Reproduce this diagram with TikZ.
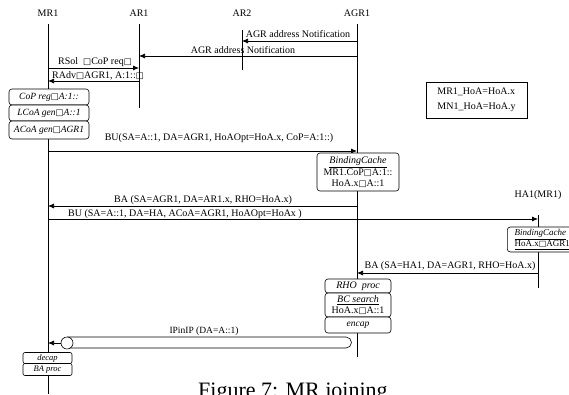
\documentclass[tikz,border=0pt]{standalone}
\usepackage{fontspec}
\setmainfont{Liberation Serif}
\newfontfamily\djvfont{DejaVu Sans}
\newcommand\sqg{{\djvfont\fontsize{8.5}{8.5}\selectfont □}}
\usetikzlibrary{arrows.meta}
\begin{document}
\begin{tikzpicture}[x=1pt,y=-1pt,
  font=\fontsize{10}{11}\selectfont,
  life/.style={line width=0.75pt},
  msg/.style={line width=0.75pt,-{Latex[length=6pt,width=5pt]}},
  lbl/.style={inner sep=0pt,anchor=base},
  head/.style={inner sep=0pt,anchor=base,font=\fontsize{10}{11}\selectfont},
  proc/.style={draw,fill=white,rounded corners=3pt,line width=0.6pt,inner sep=0pt,align=center},
  memo/.style={draw,fill=white,line width=0.6pt,inner sep=0pt,align=left}
]
\clip (0,0) rectangle (569,394);
\useasboundingbox (0,0) rectangle (569,394);

% headers
\node[head] (MR1) at (48,16) {MR1};
\node[head] (AR1) at (139,16) {AR1};
\node[head] (AR2) at (242,16) {AR2};
\node[head] (AGR1) at (357,16) {AGR1};
\node[head] (HA1) at (538,197) {HA1(MR1)};

% lifeline ends
\coordinate (mrT) at (48,24);  \coordinate (mrB) at (48,394);
\coordinate (arT) at (139,24); \coordinate (arB) at (139,108);
\coordinate (ar2T) at (242,30); \coordinate (ar2B) at (242,70);
\coordinate (agT) at (357,24); \coordinate (agB) at (357,357);
\coordinate (haT) at (538,215); \coordinate (haB) at (538,288);
\draw[life] (mrT) -- (mrB);
\draw[life] (arT) -- (arB);
\draw[life] (ar2T) -- (ar2B);
\draw[life] (agT) -- (agB);
\draw[life] (haT) -- (haB);

% message endpoints
\coordinate (n1a) at (357,41);  \coordinate (n1b) at (242,41);
\coordinate (n2a) at (357,56);  \coordinate (n2b) at (139,56);
\coordinate (rsa) at (48,68);   \coordinate (rsb) at (139,68);
\coordinate (raa) at (139,81);  \coordinate (rab) at (48,81);
\coordinate (bu1a) at (48,151); \coordinate (bu1b) at (357,151);
\coordinate (ba1a) at (357,206); \coordinate (ba1b) at (48,206);
\coordinate (bu2a) at (48,219); \coordinate (bu2b) at (538,219);
\coordinate (ba2a) at (538,273); \coordinate (ba2b) at (357,273);

\draw[msg] (n1a) -- (n1b);
\node[lbl] (l1) at (298,37) {AGR address Notification};
\draw[msg] (n2a) -- (n2b);
\node[lbl] (l2) at (243,53) {AGR address Notification};
\draw[msg] (rsa) -- (rsb);
\node[lbl] (l3) at (95,64) {RSol\ \ \sqg CoP req\sqg};
\draw[msg] (raa) -- (rab);
\node[lbl] (l4) at (98,78) {RAdv\sqg AGR1, A:1::\sqg};
\draw[msg] (bu1a) -- (bu1b);
\node[lbl] (l5) at (219,140) {BU(SA=A::1, DA=AGR1, HoAOpt=HoA.x, CoP=A:1::)};
\draw[msg] (ba1a) -- (ba1b);
\node[lbl] (l6) at (203,202) {BA (SA=AGR1, DA=AR1.x, RHO=HoA.x)};
\draw[msg] (bu2a) -- (bu2b);
\node[lbl] (l7) at (185,216) {BU (SA=A::1, DA=HA, ACoA=AGR1, HoAOpt=HoAx )};
\draw[msg] (ba2a) -- (ba2b);
\node[lbl] (l8) at (450,268) {BA (SA=HA1, DA=AGR1, RHO=HoA.x)};

% left process boxes
\node[proc,minimum width=80pt,minimum height=16pt,font=\itshape\fontsize{9.5}{10}\selectfont] (cop) at (49,97) {CoP reg\sqg A:1::};
\node[proc,minimum width=80pt,minimum height=16pt,font=\itshape\fontsize{9.5}{10}\selectfont] (lcoa) at (49,113) {LCoA gen\sqg A::1};
\node[proc,minimum width=80pt,minimum height=18pt,font=\itshape\fontsize{9.5}{10}\selectfont] (acoa) at (49,130) {ACoA gen\sqg AGR1};

% binding cache at AGR1
\node[proc,minimum width=82pt,minimum height=38pt,font=\fontsize{10}{10.5}\selectfont] (bc1) at (358,172)
  {\textit{\underline{BindingCache}}\\MR1.CoP\sqg A:1::\\HoA.x\sqg A::1};

% binding cache at HA1
\node[proc,anchor=west,minimum width=70pt,minimum height=25pt,align=left,inner xsep=1.5pt,font=\fontsize{9}{11.5}\selectfont] (bc2) at (507,239.5)
  {\textit{\underline{BindingCache}}\\\underline{HoA.x{\djvfont\fontsize{8}{8}\selectfont □}AGR1}};

% AGR1 processing boxes
\node[proc,minimum width=66pt,minimum height=14pt,font=\itshape\fontsize{10}{10}\selectfont] (rho) at (358,286) {RHO\ \ proc};
\node[proc,minimum width=66pt,minimum height=24pt,font=\fontsize{10}{11}\selectfont] (bcs) at (358,305)
  {\textit{\underline{BC search}}\\HoA.x\sqg A::1};
\node[proc,minimum width=66pt,minimum height=16pt,font=\itshape\fontsize{9.5}{10}\selectfont] (encap) at (358,325) {encap};

% memo box
\node[memo,minimum width=101pt,minimum height=36pt,font=\fontsize{10}{14.5}\selectfont] (memo) at (476.5,100)
  {MR1\_HoA=HoA.x\\MN1\_HoA=HoA.y};

% IPinIP tunnel
\coordinate (tL) at (67,343);
\draw[line width=0.6pt,fill=white] (67,337) -- (346,337) arc[start angle=-90,end angle=90,radius=5.5] -- (67,348);
\node[draw,circle,fill=white,line width=0.6pt,minimum size=12pt,inner sep=0pt] (circ) at (tL) {};
\coordinate (ipend) at (48,343);
\draw[msg] (circ.west) -- (ipend);
\node[lbl] (l9) at (204,333) {\fontsize{9.5}{10}\selectfont IPinIP (DA=A::1)};

% MR1 bottom boxes
\node[proc,minimum width=49pt,minimum height=11pt,rounded corners=2pt,font=\itshape\fontsize{8.5}{9}\selectfont] (decap) at (47.5,358) {decap};
\node[proc,minimum width=49pt,minimum height=12pt,rounded corners=2pt,font=\itshape\fontsize{8.5}{9}\selectfont] (baproc) at (47.5,369.5) {BA proc};

% caption (cut by the page edge)
\node[inner sep=0pt,anchor=base west,font=\fontsize{22}{24}\selectfont] (cap) at (198,397) {Figure 7: MR joining};
\end{tikzpicture}
\end{document}
